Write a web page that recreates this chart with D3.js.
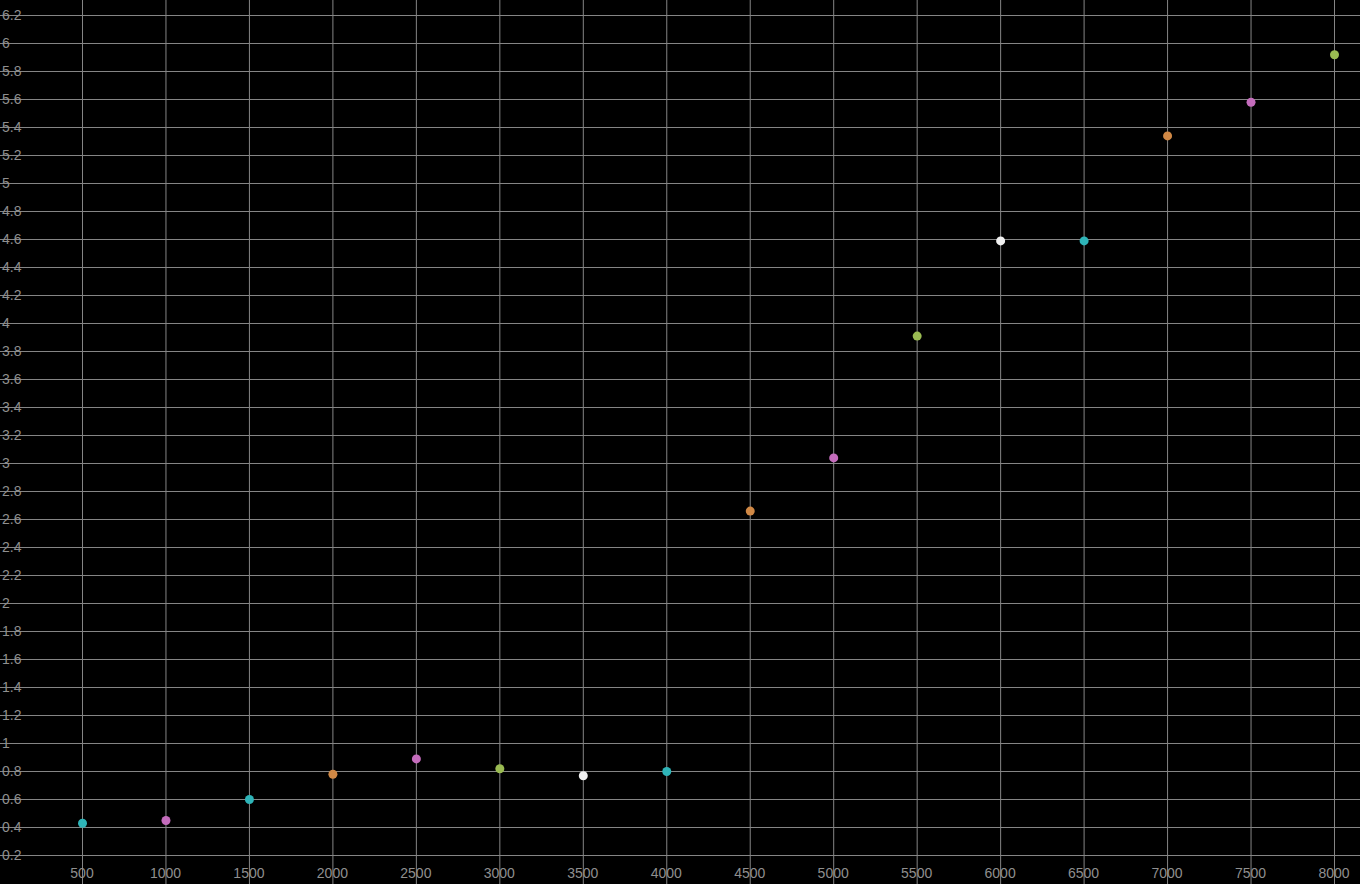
<!DOCTYPE html>
<html><head><meta charset="utf-8">
<script src="https://cdn.jsdelivr.net/npm/d3@7"></script>
<style>html,body{margin:0;padding:0;background:#000;overflow:hidden}</style>
</head><body>
<svg id="c" width="1360" height="884"></svg>
<script>
const xValues = [500,1000,1500,2000,2500,3000,3500,4000,4500,5000,5500,6000,6500,7000,7500,8000];
const yValues = [0.43,0.45,0.60,0.78,0.89,0.82,0.77,0.80,2.66,3.04,3.91,4.59,4.59,5.34,5.58,5.92];
const pointColors = ["#2eb4b8","#c46cbc","#2eb4b8","#d08845","#c46cbc","#9abb52","#f0f0f0","#2eb4b8","#d08845","#c46cbc","#9abb52","#f0f0f0","#2eb4b8","#d08845","#c46cbc","#9abb52"];
const xTicks = d3.range(500, 8001, 500);
const yTicks = d3.range(1, 32).map(i => +(i*0.2).toFixed(1));

const W = 1360, H = 884;
const svg = d3.select("#c");
svg.append("rect").attr("width",W).attr("height",H).attr("fill","#000");

const x = d3.scaleLinear().domain([500,8000]).range([82,1334]);
const y = d3.scaleLinear().domain([0.2,6.2]).range([855,15]);

const gridColor = "#858585";
svg.append("g").selectAll("line").data(xTicks).join("line")
  .attr("x1",d=>x(d)+0.5).attr("x2",d=>x(d)+0.5).attr("y1",0).attr("y2",H)
  .attr("stroke",gridColor).attr("stroke-width",1);
svg.append("g").selectAll("line").data(yTicks).join("line")
  .attr("x1",0).attr("x2",W).attr("y1",d=>y(d)+0.5).attr("y2",d=>y(d)+0.5)
  .attr("stroke",gridColor).attr("stroke-width",1);

const font = "'Liberation Sans', Arial, sans-serif";
svg.append("g").selectAll("text").data(yTicks).join("text")
  .attr("x",2).attr("y",d=>y(d)).attr("dy","0.35em")
  .attr("fill","#8f8f8f").attr("font-family",font).attr("font-size",14)
  .text(d=>d3.format("~g")(d));
svg.append("g").selectAll("text").data(xTicks).join("text")
  .attr("x",d=>x(d)).attr("y",873).attr("dy","0.35em").attr("text-anchor","middle")
  .attr("fill","#8f8f8f").attr("font-family",font).attr("font-size",14)
  .text(d=>d);

svg.append("g").selectAll("circle").data(xValues).join("circle")
  .attr("cx",(d)=>x(d)+0.5).attr("cy",(d,i)=>y(yValues[i])+0.5).attr("r",4.5)
  .attr("fill",(d,i)=>pointColors[i]);
</script>
</body></html>
